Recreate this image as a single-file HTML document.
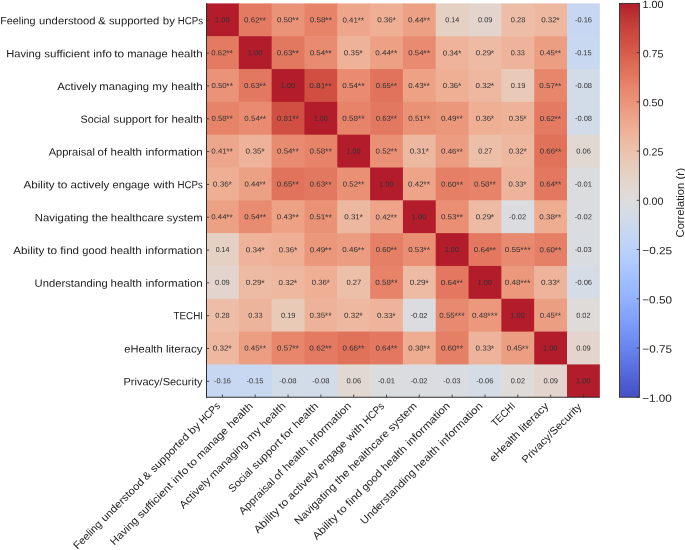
<!DOCTYPE html>
<html><head><meta charset="utf-8"><title>Correlation heatmap</title>
<style>
html,body{margin:0;padding:0;background:#fff;}
body{width:685px;height:550px;position:relative;overflow:hidden;font-family:"Liberation Sans",sans-serif;}
svg{position:absolute;left:0;top:0;}
.t,.an{position:absolute;left:0;top:0;white-space:nowrap;transform-origin:0 0;}
#tx{position:absolute;left:0;top:0;width:685px;height:550px;will-change:transform;}
.t{font-size:10.50px;line-height:10.50px;height:10.50px;color:#222222;}
.w{display:inline-block;text-align:left;}
.st{font-size:8.944px;line-height:7.30px;}
.wi{display:inline-block;transform-origin:0 0;}
.xl{text-align:right;}
.an{font-size:7.30px;line-height:7.30px;height:7.30px;color:#333333;}
</style></head><body>
<svg width="685" height="550" viewBox="0 0 685 550">
<defs><linearGradient id="cb" x1="0" y1="0" x2="0" y2="1">
<stop offset="0.0000" stop-color="#b21c2b"/>
<stop offset="0.0250" stop-color="#ba3030"/>
<stop offset="0.0500" stop-color="#c23d36"/>
<stop offset="0.0750" stop-color="#cb483d"/>
<stop offset="0.1000" stop-color="#d25043"/>
<stop offset="0.1250" stop-color="#d75c4b"/>
<stop offset="0.1500" stop-color="#dd6954"/>
<stop offset="0.1750" stop-color="#e1735c"/>
<stop offset="0.2000" stop-color="#e57f66"/>
<stop offset="0.2250" stop-color="#e88a6f"/>
<stop offset="0.2500" stop-color="#eb9378"/>
<stop offset="0.2750" stop-color="#ec9e83"/>
<stop offset="0.3000" stop-color="#eda88c"/>
<stop offset="0.3250" stop-color="#eeb298"/>
<stop offset="0.3500" stop-color="#edbaa2"/>
<stop offset="0.3750" stop-color="#ecc1ac"/>
<stop offset="0.4000" stop-color="#e9c9b7"/>
<stop offset="0.4250" stop-color="#e6cfc1"/>
<stop offset="0.4500" stop-color="#e3d5cb"/>
<stop offset="0.4750" stop-color="#e1d9d4"/>
<stop offset="0.5000" stop-color="#dddcdc"/>
<stop offset="0.5250" stop-color="#d6dce4"/>
<stop offset="0.5500" stop-color="#d0daea"/>
<stop offset="0.5750" stop-color="#c8d8f0"/>
<stop offset="0.6000" stop-color="#c2d5f5"/>
<stop offset="0.6250" stop-color="#bbd1f9"/>
<stop offset="0.6500" stop-color="#b2ccfd"/>
<stop offset="0.6750" stop-color="#aac6ff"/>
<stop offset="0.7000" stop-color="#a1bfff"/>
<stop offset="0.7250" stop-color="#9ab9ff"/>
<stop offset="0.7500" stop-color="#92b2ff"/>
<stop offset="0.7750" stop-color="#89a9fe"/>
<stop offset="0.8000" stop-color="#81a1fc"/>
<stop offset="0.8250" stop-color="#7897f8"/>
<stop offset="0.8500" stop-color="#718ef3"/>
<stop offset="0.8750" stop-color="#6985ee"/>
<stop offset="0.9000" stop-color="#6179e7"/>
<stop offset="0.9250" stop-color="#5a6fe0"/>
<stop offset="0.9500" stop-color="#5264d7"/>
<stop offset="0.9750" stop-color="#4b59cf"/>
<stop offset="1.0000" stop-color="#454fc6"/>
</linearGradient></defs>
<g id="cells">
<rect x="206.00" y="3.40" width="33.42" height="33.42" fill="#b21c2b"/>
<rect x="238.82" y="3.40" width="33.42" height="33.42" fill="#e47a61"/>
<rect x="271.64" y="3.40" width="33.42" height="33.42" fill="#eb9378"/>
<rect x="304.46" y="3.40" width="33.42" height="33.42" fill="#e68369"/>
<rect x="337.28" y="3.40" width="33.42" height="33.42" fill="#eda68b"/>
<rect x="370.10" y="3.40" width="33.42" height="33.42" fill="#eeaf95"/>
<rect x="402.92" y="3.40" width="33.42" height="33.42" fill="#eca084"/>
<rect x="435.74" y="3.40" width="33.42" height="33.42" fill="#e5d1c4"/>
<rect x="468.56" y="3.40" width="33.42" height="33.42" fill="#e3d5cd"/>
<rect x="501.38" y="3.40" width="33.42" height="33.42" fill="#edbda7"/>
<rect x="534.20" y="3.40" width="33.42" height="33.42" fill="#eeb79f"/>
<rect x="567.02" y="3.40" width="32.82" height="33.42" fill="#c7d7f1"/>
<rect x="206.00" y="36.22" width="33.42" height="33.42" fill="#e47a61"/>
<rect x="238.82" y="36.22" width="33.42" height="33.42" fill="#b21c2b"/>
<rect x="271.64" y="36.22" width="33.42" height="33.42" fill="#e37860"/>
<rect x="304.46" y="36.22" width="33.42" height="33.42" fill="#e98b70"/>
<rect x="337.28" y="36.22" width="33.42" height="33.42" fill="#eeb298"/>
<rect x="370.10" y="36.22" width="33.42" height="33.42" fill="#eca084"/>
<rect x="402.92" y="36.22" width="33.42" height="33.42" fill="#e98b70"/>
<rect x="435.74" y="36.22" width="33.42" height="33.42" fill="#eeb39a"/>
<rect x="468.56" y="36.22" width="33.42" height="33.42" fill="#edbba4"/>
<rect x="501.38" y="36.22" width="33.42" height="33.42" fill="#eeb49b"/>
<rect x="534.20" y="36.22" width="33.42" height="33.42" fill="#ec9e83"/>
<rect x="567.02" y="36.22" width="32.82" height="33.42" fill="#c8d8f0"/>
<rect x="206.00" y="69.04" width="33.42" height="33.42" fill="#eb9378"/>
<rect x="238.82" y="69.04" width="33.42" height="33.42" fill="#e37860"/>
<rect x="271.64" y="69.04" width="33.42" height="33.42" fill="#b21c2b"/>
<rect x="304.46" y="69.04" width="33.42" height="33.42" fill="#d14e42"/>
<rect x="337.28" y="69.04" width="33.42" height="33.42" fill="#e98b70"/>
<rect x="370.10" y="69.04" width="33.42" height="33.42" fill="#e1735c"/>
<rect x="402.92" y="69.04" width="33.42" height="33.42" fill="#eda286"/>
<rect x="435.74" y="69.04" width="33.42" height="33.42" fill="#eeaf95"/>
<rect x="468.56" y="69.04" width="33.42" height="33.42" fill="#eeb79f"/>
<rect x="501.38" y="69.04" width="33.42" height="33.42" fill="#e9cab9"/>
<rect x="534.20" y="69.04" width="33.42" height="33.42" fill="#e8866c"/>
<rect x="567.02" y="69.04" width="32.82" height="33.42" fill="#d2dbe8"/>
<rect x="206.00" y="101.86" width="33.42" height="33.42" fill="#e68369"/>
<rect x="238.82" y="101.86" width="33.42" height="33.42" fill="#e98b70"/>
<rect x="271.64" y="101.86" width="33.42" height="33.42" fill="#d14e42"/>
<rect x="304.46" y="101.86" width="33.42" height="33.42" fill="#b21c2b"/>
<rect x="337.28" y="101.86" width="33.42" height="33.42" fill="#e68369"/>
<rect x="370.10" y="101.86" width="33.42" height="33.42" fill="#e37860"/>
<rect x="402.92" y="101.86" width="33.42" height="33.42" fill="#ea9276"/>
<rect x="435.74" y="101.86" width="33.42" height="33.42" fill="#eb977b"/>
<rect x="468.56" y="101.86" width="33.42" height="33.42" fill="#eeaf95"/>
<rect x="501.38" y="101.86" width="33.42" height="33.42" fill="#eeb298"/>
<rect x="534.20" y="101.86" width="33.42" height="33.42" fill="#e47a61"/>
<rect x="567.02" y="101.86" width="32.82" height="33.42" fill="#d2dbe8"/>
<rect x="206.00" y="134.68" width="33.42" height="33.42" fill="#eda68b"/>
<rect x="238.82" y="134.68" width="33.42" height="33.42" fill="#eeb298"/>
<rect x="271.64" y="134.68" width="33.42" height="33.42" fill="#e98b70"/>
<rect x="304.46" y="134.68" width="33.42" height="33.42" fill="#e68369"/>
<rect x="337.28" y="134.68" width="33.42" height="33.42" fill="#b21c2b"/>
<rect x="370.10" y="134.68" width="33.42" height="33.42" fill="#ea9075"/>
<rect x="402.92" y="134.68" width="33.42" height="33.42" fill="#edb8a0"/>
<rect x="435.74" y="134.68" width="33.42" height="33.42" fill="#ec9d81"/>
<rect x="468.56" y="134.68" width="33.42" height="33.42" fill="#ecbfa8"/>
<rect x="501.38" y="134.68" width="33.42" height="33.42" fill="#eeb79f"/>
<rect x="534.20" y="134.68" width="33.42" height="33.42" fill="#e1725a"/>
<rect x="567.02" y="134.68" width="32.82" height="33.42" fill="#e1d8d2"/>
<rect x="206.00" y="167.50" width="33.42" height="33.42" fill="#eeaf95"/>
<rect x="238.82" y="167.50" width="33.42" height="33.42" fill="#eca084"/>
<rect x="271.64" y="167.50" width="33.42" height="33.42" fill="#e1735c"/>
<rect x="304.46" y="167.50" width="33.42" height="33.42" fill="#e37860"/>
<rect x="337.28" y="167.50" width="33.42" height="33.42" fill="#ea9075"/>
<rect x="370.10" y="167.50" width="33.42" height="33.42" fill="#b21c2b"/>
<rect x="402.92" y="167.50" width="33.42" height="33.42" fill="#eda489"/>
<rect x="435.74" y="167.50" width="33.42" height="33.42" fill="#e57f66"/>
<rect x="468.56" y="167.50" width="33.42" height="33.42" fill="#e68369"/>
<rect x="501.38" y="167.50" width="33.42" height="33.42" fill="#eeb49b"/>
<rect x="534.20" y="167.50" width="33.42" height="33.42" fill="#e3775f"/>
<rect x="567.02" y="167.50" width="32.82" height="33.42" fill="#dbdcde"/>
<rect x="206.00" y="200.32" width="33.42" height="33.42" fill="#eca084"/>
<rect x="238.82" y="200.32" width="33.42" height="33.42" fill="#e98b70"/>
<rect x="271.64" y="200.32" width="33.42" height="33.42" fill="#eda286"/>
<rect x="304.46" y="200.32" width="33.42" height="33.42" fill="#ea9276"/>
<rect x="337.28" y="200.32" width="33.42" height="33.42" fill="#edb8a0"/>
<rect x="370.10" y="200.32" width="33.42" height="33.42" fill="#eda489"/>
<rect x="402.92" y="200.32" width="33.42" height="33.42" fill="#b21c2b"/>
<rect x="435.74" y="200.32" width="33.42" height="33.42" fill="#ea8f73"/>
<rect x="468.56" y="200.32" width="33.42" height="33.42" fill="#edbba4"/>
<rect x="501.38" y="200.32" width="33.42" height="33.42" fill="#dadce0"/>
<rect x="534.20" y="200.32" width="33.42" height="33.42" fill="#eeac91"/>
<rect x="567.02" y="200.32" width="32.82" height="33.42" fill="#dadce0"/>
<rect x="206.00" y="233.14" width="33.42" height="33.42" fill="#e5d1c4"/>
<rect x="238.82" y="233.14" width="33.42" height="33.42" fill="#eeb39a"/>
<rect x="271.64" y="233.14" width="33.42" height="33.42" fill="#eeaf95"/>
<rect x="304.46" y="233.14" width="33.42" height="33.42" fill="#eb977b"/>
<rect x="337.28" y="233.14" width="33.42" height="33.42" fill="#ec9d81"/>
<rect x="370.10" y="233.14" width="33.42" height="33.42" fill="#e57f66"/>
<rect x="402.92" y="233.14" width="33.42" height="33.42" fill="#ea8f73"/>
<rect x="435.74" y="233.14" width="33.42" height="33.42" fill="#b21c2b"/>
<rect x="468.56" y="233.14" width="33.42" height="33.42" fill="#e3775f"/>
<rect x="501.38" y="233.14" width="33.42" height="33.42" fill="#e88a6f"/>
<rect x="534.20" y="233.14" width="33.42" height="33.42" fill="#e57f66"/>
<rect x="567.02" y="233.14" width="32.82" height="33.42" fill="#d9dce1"/>
<rect x="206.00" y="265.96" width="33.42" height="33.42" fill="#e3d5cd"/>
<rect x="238.82" y="265.96" width="33.42" height="33.42" fill="#edbba4"/>
<rect x="271.64" y="265.96" width="33.42" height="33.42" fill="#eeb79f"/>
<rect x="304.46" y="265.96" width="33.42" height="33.42" fill="#eeaf95"/>
<rect x="337.28" y="265.96" width="33.42" height="33.42" fill="#ecbfa8"/>
<rect x="370.10" y="265.96" width="33.42" height="33.42" fill="#e68369"/>
<rect x="402.92" y="265.96" width="33.42" height="33.42" fill="#edbba4"/>
<rect x="435.74" y="265.96" width="33.42" height="33.42" fill="#e3775f"/>
<rect x="468.56" y="265.96" width="33.42" height="33.42" fill="#b21c2b"/>
<rect x="501.38" y="265.96" width="33.42" height="33.42" fill="#eb987c"/>
<rect x="534.20" y="265.96" width="33.42" height="33.42" fill="#eeb49b"/>
<rect x="567.02" y="265.96" width="32.82" height="33.42" fill="#d5dce5"/>
<rect x="206.00" y="298.78" width="33.42" height="33.42" fill="#edbda7"/>
<rect x="238.82" y="298.78" width="33.42" height="33.42" fill="#eeb49b"/>
<rect x="271.64" y="298.78" width="33.42" height="33.42" fill="#e9cab9"/>
<rect x="304.46" y="298.78" width="33.42" height="33.42" fill="#eeb298"/>
<rect x="337.28" y="298.78" width="33.42" height="33.42" fill="#eeb79f"/>
<rect x="370.10" y="298.78" width="33.42" height="33.42" fill="#eeb49b"/>
<rect x="402.92" y="298.78" width="33.42" height="33.42" fill="#dadce0"/>
<rect x="435.74" y="298.78" width="33.42" height="33.42" fill="#e88a6f"/>
<rect x="468.56" y="298.78" width="33.42" height="33.42" fill="#eb987c"/>
<rect x="501.38" y="298.78" width="33.42" height="33.42" fill="#b21c2b"/>
<rect x="534.20" y="298.78" width="33.42" height="33.42" fill="#ec9e83"/>
<rect x="567.02" y="298.78" width="32.82" height="33.42" fill="#dedbd9"/>
<rect x="206.00" y="331.60" width="33.42" height="33.42" fill="#eeb79f"/>
<rect x="238.82" y="331.60" width="33.42" height="33.42" fill="#ec9e83"/>
<rect x="271.64" y="331.60" width="33.42" height="33.42" fill="#e8866c"/>
<rect x="304.46" y="331.60" width="33.42" height="33.42" fill="#e47a61"/>
<rect x="337.28" y="331.60" width="33.42" height="33.42" fill="#e1725a"/>
<rect x="370.10" y="331.60" width="33.42" height="33.42" fill="#e3775f"/>
<rect x="402.92" y="331.60" width="33.42" height="33.42" fill="#eeac91"/>
<rect x="435.74" y="331.60" width="33.42" height="33.42" fill="#e57f66"/>
<rect x="468.56" y="331.60" width="33.42" height="33.42" fill="#eeb49b"/>
<rect x="501.38" y="331.60" width="33.42" height="33.42" fill="#ec9e83"/>
<rect x="534.20" y="331.60" width="33.42" height="33.42" fill="#b21c2b"/>
<rect x="567.02" y="331.60" width="32.82" height="33.42" fill="#e3d5cd"/>
<rect x="206.00" y="364.42" width="33.42" height="32.82" fill="#c7d7f1"/>
<rect x="238.82" y="364.42" width="33.42" height="32.82" fill="#c8d8f0"/>
<rect x="271.64" y="364.42" width="33.42" height="32.82" fill="#d2dbe8"/>
<rect x="304.46" y="364.42" width="33.42" height="32.82" fill="#d2dbe8"/>
<rect x="337.28" y="364.42" width="33.42" height="32.82" fill="#e1d8d2"/>
<rect x="370.10" y="364.42" width="33.42" height="32.82" fill="#dbdcde"/>
<rect x="402.92" y="364.42" width="33.42" height="32.82" fill="#dadce0"/>
<rect x="435.74" y="364.42" width="33.42" height="32.82" fill="#d9dce1"/>
<rect x="468.56" y="364.42" width="33.42" height="32.82" fill="#d5dce5"/>
<rect x="501.38" y="364.42" width="33.42" height="32.82" fill="#dedbd9"/>
<rect x="534.20" y="364.42" width="33.42" height="32.82" fill="#e3d5cd"/>
<rect x="567.02" y="364.42" width="32.82" height="32.82" fill="#b21c2b"/>
</g>
<rect x="619.50" y="3.40" width="19.90" height="393.84" fill="url(#cb)" stroke="#2e2e2e" stroke-width="0.90"/>
<line x1="206.50" y1="3.40" x2="206.50" y2="397.74" stroke="#2e2e2e" stroke-width="1.00"/>
<line x1="206.00" y1="397.24" x2="599.84" y2="397.24" stroke="#2e2e2e" stroke-width="1.00"/>
<line x1="206.50" y1="20.31" x2="209.20" y2="20.31" stroke="#333333" stroke-width="0.85"/>
<line x1="222.41" y1="397.24" x2="222.41" y2="394.54" stroke="#333333" stroke-width="0.85"/>
<line x1="206.50" y1="53.13" x2="209.20" y2="53.13" stroke="#333333" stroke-width="0.85"/>
<line x1="255.23" y1="397.24" x2="255.23" y2="394.54" stroke="#333333" stroke-width="0.85"/>
<line x1="206.50" y1="85.95" x2="209.20" y2="85.95" stroke="#333333" stroke-width="0.85"/>
<line x1="288.05" y1="397.24" x2="288.05" y2="394.54" stroke="#333333" stroke-width="0.85"/>
<line x1="206.50" y1="118.77" x2="209.20" y2="118.77" stroke="#333333" stroke-width="0.85"/>
<line x1="320.87" y1="397.24" x2="320.87" y2="394.54" stroke="#333333" stroke-width="0.85"/>
<line x1="206.50" y1="151.59" x2="209.20" y2="151.59" stroke="#333333" stroke-width="0.85"/>
<line x1="353.69" y1="397.24" x2="353.69" y2="394.54" stroke="#333333" stroke-width="0.85"/>
<line x1="206.50" y1="184.41" x2="209.20" y2="184.41" stroke="#333333" stroke-width="0.85"/>
<line x1="386.51" y1="397.24" x2="386.51" y2="394.54" stroke="#333333" stroke-width="0.85"/>
<line x1="206.50" y1="217.23" x2="209.20" y2="217.23" stroke="#333333" stroke-width="0.85"/>
<line x1="419.33" y1="397.24" x2="419.33" y2="394.54" stroke="#333333" stroke-width="0.85"/>
<line x1="206.50" y1="250.05" x2="209.20" y2="250.05" stroke="#333333" stroke-width="0.85"/>
<line x1="452.15" y1="397.24" x2="452.15" y2="394.54" stroke="#333333" stroke-width="0.85"/>
<line x1="206.50" y1="282.87" x2="209.20" y2="282.87" stroke="#333333" stroke-width="0.85"/>
<line x1="484.97" y1="397.24" x2="484.97" y2="394.54" stroke="#333333" stroke-width="0.85"/>
<line x1="206.50" y1="315.69" x2="209.20" y2="315.69" stroke="#333333" stroke-width="0.85"/>
<line x1="517.79" y1="397.24" x2="517.79" y2="394.54" stroke="#333333" stroke-width="0.85"/>
<line x1="206.50" y1="348.51" x2="209.20" y2="348.51" stroke="#333333" stroke-width="0.85"/>
<line x1="550.61" y1="397.24" x2="550.61" y2="394.54" stroke="#333333" stroke-width="0.85"/>
<line x1="206.50" y1="381.33" x2="209.20" y2="381.33" stroke="#333333" stroke-width="0.85"/>
<line x1="583.43" y1="397.24" x2="583.43" y2="394.54" stroke="#333333" stroke-width="0.85"/>
<line x1="639.40" y1="3.40" x2="636.70" y2="3.40" stroke="#333333" stroke-width="0.85"/>
<line x1="639.40" y1="52.63" x2="636.70" y2="52.63" stroke="#333333" stroke-width="0.85"/>
<line x1="639.40" y1="101.86" x2="636.70" y2="101.86" stroke="#333333" stroke-width="0.85"/>
<line x1="639.40" y1="151.09" x2="636.70" y2="151.09" stroke="#333333" stroke-width="0.85"/>
<line x1="639.40" y1="200.32" x2="636.70" y2="200.32" stroke="#333333" stroke-width="0.85"/>
<line x1="639.40" y1="249.55" x2="636.70" y2="249.55" stroke="#333333" stroke-width="0.85"/>
<line x1="639.40" y1="298.78" x2="636.70" y2="298.78" stroke="#333333" stroke-width="0.85"/>
<line x1="639.40" y1="348.01" x2="636.70" y2="348.01" stroke="#333333" stroke-width="0.85"/>
<line x1="639.40" y1="397.24" x2="636.70" y2="397.24" stroke="#333333" stroke-width="0.85"/>
</svg>
<div id="tx">
<div class="t yl" style="transform:translate(203.158px,24.121px) scaleX(0.9976) translate(-100%,-8.888px)"><span class="w" style="width:38.619px"><span class="wi" style="transform:scaleX(1.0299) skewY(0.100deg)">Feeling</span></span><span class="w" style="width:59.699px"><span class="wi" style="transform:scaleX(1.0762) skewY(0.100deg)">understood</span></span><span class="w" style="width:10.889px"><span class="wi" style="transform:scaleX(1.1045) skewY(0.100deg)">&amp;</span></span><span class="w" style="width:53.640px"><span class="wi" style="transform:scaleX(1.0810) skewY(0.100deg)">supported</span></span><span class="w" style="width:15.321px"><span class="wi" style="transform:scaleX(1.0972) skewY(0.100deg)">by</span></span><span class="w" style="width:25.362px"><span class="wi" style="transform:scaleX(0.9250) skewY(0.100deg)">HCPs</span></span></div>
<div class="t yl" style="transform:translate(202.702px,57.032px) scaleX(1.0001) translate(-100%,-8.888px)"><span class="w" style="width:37.902px"><span class="wi" style="transform:scaleX(1.0632) skewY(0.100deg)">Having</span></span><span class="w" style="width:48.690px"><span class="wi" style="transform:scaleX(1.1040) skewY(0.100deg)">sufficient</span></span><span class="w" style="width:21.758px"><span class="wi" style="transform:scaleX(1.0990) skewY(0.100deg)">info</span></span><span class="w" style="width:13.112px"><span class="wi" style="transform:scaleX(1.1373) skewY(0.100deg)">to</span></span><span class="w" style="width:43.662px"><span class="wi" style="transform:scaleX(1.0676) skewY(0.100deg)">manage</span></span><span class="w" style="width:31.402px"><span class="wi" style="transform:scaleX(1.0977) skewY(0.100deg)">health</span></span></div>
<div class="t yl" style="transform:translate(202.709px,89.798px) scaleX(1.0003) translate(-100%,-8.888px)"><span class="w" style="width:42.465px"><span class="wi" style="transform:scaleX(1.0867) skewY(0.100deg)">Actively</span></span><span class="w" style="width:52.899px"><span class="wi" style="transform:scaleX(1.0787) skewY(0.100deg)">managing</span></span><span class="w" style="width:18.687px"><span class="wi" style="transform:scaleX(1.1098) skewY(0.100deg)">my</span></span><span class="w" style="width:31.402px"><span class="wi" style="transform:scaleX(1.0977) skewY(0.100deg)">health</span></span></div>
<div class="t yl" style="transform:translate(202.341px,122.557px) scaleX(0.9990) translate(-100%,-8.888px)"><span class="w" style="width:32.565px"><span class="wi" style="transform:scaleX(1.0284) skewY(0.100deg)">Social</span></span><span class="w" style="width:41.240px"><span class="wi" style="transform:scaleX(1.0875) skewY(0.100deg)">support</span></span><span class="w" style="width:16.793px"><span class="wi" style="transform:scaleX(1.1132) skewY(0.100deg)">for</span></span><span class="w" style="width:31.402px"><span class="wi" style="transform:scaleX(1.0977) skewY(0.100deg)">health</span></span></div>
<div class="t yl" style="transform:translate(202.432px,155.305px) scaleX(0.9991) translate(-100%,-8.888px)"><span class="w" style="width:49.450px"><span class="wi" style="transform:scaleX(1.0576) skewY(0.100deg)">Appraisal</span></span><span class="w" style="width:12.715px"><span class="wi" style="transform:scaleX(1.0919) skewY(0.100deg)">of</span></span><span class="w" style="width:34.556px"><span class="wi" style="transform:scaleX(1.0977) skewY(0.100deg)">health</span></span><span class="w" style="width:57.253px"><span class="wi" style="transform:scaleX(1.1023) skewY(0.100deg)">information</span></span></div>
<div class="t yl" style="transform:translate(202.743px,188.216px) scaleX(1.0009) translate(-100%,-8.888px)"><span class="w" style="width:34.265px"><span class="wi" style="transform:scaleX(1.1108) skewY(0.100deg)">Ability</span></span><span class="w" style="width:13.112px"><span class="wi" style="transform:scaleX(1.1373) skewY(0.100deg)">to</span></span><span class="w" style="width:41.932px"><span class="wi" style="transform:scaleX(1.1076) skewY(0.100deg)">actively</span></span><span class="w" style="width:40.320px"><span class="wi" style="transform:scaleX(1.0607) skewY(0.100deg)">engage</span></span><span class="w" style="width:24.200px"><span class="wi" style="transform:scaleX(1.1271) skewY(0.100deg)">with</span></span><span class="w" style="width:25.362px"><span class="wi" style="transform:scaleX(0.9250) skewY(0.100deg)">HCPs</span></span></div>
<div class="t yl" style="transform:translate(203.085px,221.061px) scaleX(1.0003) translate(-100%,-8.888px)"><span class="w" style="width:56.885px"><span class="wi" style="transform:scaleX(1.0830) skewY(0.100deg)">Navigating</span></span><span class="w" style="width:19.433px"><span class="wi" style="transform:scaleX(1.1153) skewY(0.100deg)">the</span></span><span class="w" style="width:56.052px"><span class="wi" style="transform:scaleX(1.0788) skewY(0.100deg)">healthcare</span></span><span class="w" style="width:35.863px"><span class="wi" style="transform:scaleX(1.0785) skewY(0.100deg)">system</span></span></div>
<div class="t yl" style="transform:translate(202.193px,253.833px) scaleX(0.9992) translate(-100%,-8.888px)"><span class="w" style="width:34.265px"><span class="wi" style="transform:scaleX(1.1108) skewY(0.100deg)">Ability</span></span><span class="w" style="width:13.112px"><span class="wi" style="transform:scaleX(1.1373) skewY(0.100deg)">to</span></span><span class="w" style="width:21.986px"><span class="wi" style="transform:scaleX(1.1124) skewY(0.100deg)">find</span></span><span class="w" style="width:27.885px"><span class="wi" style="transform:scaleX(1.0588) skewY(0.100deg)">good</span></span><span class="w" style="width:34.556px"><span class="wi" style="transform:scaleX(1.0977) skewY(0.100deg)">health</span></span><span class="w" style="width:57.253px"><span class="wi" style="transform:scaleX(1.1023) skewY(0.100deg)">information</span></span></div>
<div class="t yl" style="transform:translate(202.577px,286.524px) scaleX(1.0001) translate(-100%,-8.888px)"><span class="w" style="width:76.241px"><span class="wi" style="transform:scaleX(1.0702) skewY(0.100deg)">Understanding</span></span><span class="w" style="width:34.556px"><span class="wi" style="transform:scaleX(1.0977) skewY(0.100deg)">health</span></span><span class="w" style="width:57.253px"><span class="wi" style="transform:scaleX(1.1023) skewY(0.100deg)">information</span></span></div>
<div class="t yl" style="transform:translate(203.039px,319.092px) scaleX(0.9956) translate(-100%,-8.888px)"><span class="w" style="width:29.639px"><span class="wi" style="transform:scaleX(0.9409) skewY(0.100deg)">TECHI</span></span></div>
<div class="t yl" style="transform:translate(202.402px,352.319px) scaleX(0.9906) translate(-100%,-8.888px)"><span class="w" style="width:41.831px"><span class="wi" style="transform:scaleX(1.0687) skewY(0.100deg)">eHealth</span></span><span class="w" style="width:36.987px"><span class="wi" style="transform:scaleX(1.1121) skewY(0.100deg)">literacy</span></span></div>
<div class="t yl" style="transform:translate(202.455px,385.072px) scaleX(0.9882) translate(-100%,-8.888px)"><span class="w" style="width:79.995px"><span class="wi" style="transform:scaleX(1.0628) skewY(0.100deg)">Privacy/Security</span></span></div>
<div class="t xl" style="transform:translate(220.814px,406.330px) rotate(-45.000deg) scaleX(0.9967) translate(-100%,-8.888px)"><span class="w" style="width:38.619px"><span class="wi" style="transform:scaleX(1.0299)">Feeling</span></span><span class="w" style="width:59.699px"><span class="wi" style="transform:scaleX(1.0762)">understood</span></span><span class="w" style="width:10.889px"><span class="wi" style="transform:scaleX(1.1045)">&amp;</span></span><span class="w" style="width:53.640px"><span class="wi" style="transform:scaleX(1.0810)">supported</span></span><span class="w" style="width:15.321px"><span class="wi" style="transform:scaleX(1.0972)">by</span></span><span class="w" style="width:25.362px"><span class="wi" style="transform:scaleX(0.9250)">HCPs</span></span></div>
<div class="t xl" style="transform:translate(253.483px,406.456px) rotate(-45.000deg) scaleX(1.0019) translate(-100%,-8.888px)"><span class="w" style="width:37.902px"><span class="wi" style="transform:scaleX(1.0632)">Having</span></span><span class="w" style="width:48.690px"><span class="wi" style="transform:scaleX(1.1040)">sufficient</span></span><span class="w" style="width:21.758px"><span class="wi" style="transform:scaleX(1.0990)">info</span></span><span class="w" style="width:13.112px"><span class="wi" style="transform:scaleX(1.1373)">to</span></span><span class="w" style="width:43.662px"><span class="wi" style="transform:scaleX(1.0676)">manage</span></span><span class="w" style="width:31.402px"><span class="wi" style="transform:scaleX(1.0977)">health</span></span></div>
<div class="t xl" style="transform:translate(286.097px,406.394px) rotate(-45.000deg) scaleX(0.9993) translate(-100%,-8.888px)"><span class="w" style="width:42.465px"><span class="wi" style="transform:scaleX(1.0867)">Actively</span></span><span class="w" style="width:52.899px"><span class="wi" style="transform:scaleX(1.0787)">managing</span></span><span class="w" style="width:18.687px"><span class="wi" style="transform:scaleX(1.1098)">my</span></span><span class="w" style="width:31.402px"><span class="wi" style="transform:scaleX(1.0977)">health</span></span></div>
<div class="t xl" style="transform:translate(318.527px,406.845px) rotate(-45.000deg) scaleX(0.9973) translate(-100%,-8.888px)"><span class="w" style="width:32.565px"><span class="wi" style="transform:scaleX(1.0284)">Social</span></span><span class="w" style="width:41.240px"><span class="wi" style="transform:scaleX(1.0875)">support</span></span><span class="w" style="width:16.793px"><span class="wi" style="transform:scaleX(1.1132)">for</span></span><span class="w" style="width:31.402px"><span class="wi" style="transform:scaleX(1.0977)">health</span></span></div>
<div class="t xl" style="transform:translate(351.502px,406.619px) rotate(-45.000deg) scaleX(0.9973) translate(-100%,-8.888px)"><span class="w" style="width:49.450px"><span class="wi" style="transform:scaleX(1.0576)">Appraisal</span></span><span class="w" style="width:12.715px"><span class="wi" style="transform:scaleX(1.0919)">of</span></span><span class="w" style="width:34.556px"><span class="wi" style="transform:scaleX(1.0977)">health</span></span><span class="w" style="width:57.253px"><span class="wi" style="transform:scaleX(1.1023)">information</span></span></div>
<div class="t xl" style="transform:translate(384.825px,406.830px) rotate(-45.000deg) scaleX(1.0012) translate(-100%,-8.888px)"><span class="w" style="width:34.265px"><span class="wi" style="transform:scaleX(1.1108)">Ability</span></span><span class="w" style="width:13.112px"><span class="wi" style="transform:scaleX(1.1373)">to</span></span><span class="w" style="width:41.932px"><span class="wi" style="transform:scaleX(1.1076)">actively</span></span><span class="w" style="width:40.320px"><span class="wi" style="transform:scaleX(1.0607)">engage</span></span><span class="w" style="width:24.200px"><span class="wi" style="transform:scaleX(1.1271)">with</span></span><span class="w" style="width:25.362px"><span class="wi" style="transform:scaleX(0.9250)">HCPs</span></span></div>
<div class="t xl" style="transform:translate(417.558px,406.201px) rotate(-45.000deg) scaleX(1.0009) translate(-100%,-8.888px)"><span class="w" style="width:56.885px"><span class="wi" style="transform:scaleX(1.0830)">Navigating</span></span><span class="w" style="width:19.433px"><span class="wi" style="transform:scaleX(1.1153)">the</span></span><span class="w" style="width:56.052px"><span class="wi" style="transform:scaleX(1.0788)">healthcare</span></span><span class="w" style="width:35.863px"><span class="wi" style="transform:scaleX(1.0785)">system</span></span></div>
<div class="t xl" style="transform:translate(450.190px,406.485px) rotate(-45.000deg) scaleX(0.9998) translate(-100%,-8.888px)"><span class="w" style="width:34.265px"><span class="wi" style="transform:scaleX(1.1108)">Ability</span></span><span class="w" style="width:13.112px"><span class="wi" style="transform:scaleX(1.1373)">to</span></span><span class="w" style="width:21.986px"><span class="wi" style="transform:scaleX(1.1124)">find</span></span><span class="w" style="width:27.885px"><span class="wi" style="transform:scaleX(1.0588)">good</span></span><span class="w" style="width:34.556px"><span class="wi" style="transform:scaleX(1.0977)">health</span></span><span class="w" style="width:57.253px"><span class="wi" style="transform:scaleX(1.1023)">information</span></span></div>
<div class="t xl" style="transform:translate(482.956px,406.446px) rotate(-45.000deg) scaleX(0.9970) translate(-100%,-8.888px)"><span class="w" style="width:76.241px"><span class="wi" style="transform:scaleX(1.0702)">Understanding</span></span><span class="w" style="width:34.556px"><span class="wi" style="transform:scaleX(1.0977)">health</span></span><span class="w" style="width:57.253px"><span class="wi" style="transform:scaleX(1.1023)">information</span></span></div>
<div class="t xl" style="transform:translate(515.851px,406.642px) rotate(-45.000deg) scaleX(0.9775) translate(-100%,-8.888px)"><span class="w" style="width:29.639px"><span class="wi" style="transform:scaleX(0.9409)">TECHI</span></span></div>
<div class="t xl" style="transform:translate(548.959px,406.781px) rotate(-45.000deg) scaleX(0.9978) translate(-100%,-8.888px)"><span class="w" style="width:41.831px"><span class="wi" style="transform:scaleX(1.0687)">eHealth</span></span><span class="w" style="width:36.987px"><span class="wi" style="transform:scaleX(1.1121)">literacy</span></span></div>
<div class="t xl" style="transform:translate(582.121px,407.438px) rotate(-45.000deg) scaleX(0.9942) translate(-100%,-8.888px)"><span class="w" style="width:79.995px"><span class="wi" style="transform:scaleX(1.0628)">Privacy/Security</span></span></div>
<div class="t cl" style="transform:translate(642.456px,7.880px) scaleX(1.0284) skewY(0.100deg) translate(0px,-8.888px)">1.00</div>
<div class="t cl" style="transform:translate(642.647px,57.246px) scaleX(1.0167) skewY(0.100deg) translate(0px,-8.888px)">0.75</div>
<div class="t cl" style="transform:translate(642.637px,106.233px) scaleX(1.0251) skewY(0.100deg) translate(0px,-8.888px)">0.50</div>
<div class="t cl" style="transform:translate(642.639px,155.480px) scaleX(1.0179) skewY(0.100deg) translate(0px,-8.888px)">0.25</div>
<div class="t cl" style="transform:translate(642.656px,204.716px) scaleX(1.0142) skewY(0.100deg) translate(0px,-8.888px)">0.00</div>
<div class="t cl" style="transform:translate(642.243px,254.001px) scaleX(1.1237) skewY(0.100deg) translate(0px,-8.888px)">−0.25</div>
<div class="t cl" style="transform:translate(642.258px,303.247px) scaleX(1.1187) skewY(0.100deg) translate(0px,-8.888px)">−0.50</div>
<div class="t cl" style="transform:translate(642.288px,352.481px) scaleX(1.1152) skewY(0.100deg) translate(0px,-8.888px)">−0.75</div>
<div class="t cl" style="transform:translate(642.288px,401.684px) scaleX(1.1125) skewY(0.100deg) translate(0px,-8.888px)">−1.00</div>
<div class="t cl" style="transform:translate(684.319px,202.679px) rotate(-90.000deg) scaleX(0.9970) translate(-50%,-8.888px)"><span class="w" style="width:57.854px"><span class="wi" style="transform:scaleX(1.0651)">Correlation</span></span><span class="w" style="width:11.819px"><span class="wi" style="transform:scaleX(1.1267)">(r)</span></span></div>
<div class="an" style="transform:translate(222.307px,22.451px) scaleX(0.9560) translate(-50%,-6.179px)"><span class="w" style="width:15.352px"><span class="wi" style="transform:scaleX(1.0805) skewY(0.100deg)">1.00</span></span></div>
<div class="an" style="transform:translate(255.309px,22.538px) scaleX(1.0120) translate(-50%,-6.179px)"><span class="w" style="width:15.352px"><span class="wi" style="transform:scaleX(1.0805) skewY(0.100deg)">0.62</span></span><span class="w" style="width:6.895px"><span class="wi st" style="transform:translateY(1.037px) scaleX(0.9582) skewY(0.100deg)">**</span></span></div>
<div class="an" style="transform:translate(288.166px,22.388px) scaleX(1.0119) translate(-50%,-6.179px)"><span class="w" style="width:15.352px"><span class="wi" style="transform:scaleX(1.0805) skewY(0.100deg)">0.50</span></span><span class="w" style="width:6.895px"><span class="wi st" style="transform:translateY(1.037px) scaleX(0.9582) skewY(0.100deg)">**</span></span></div>
<div class="an" style="transform:translate(321.063px,22.362px) scaleX(1.0287) translate(-50%,-6.179px)"><span class="w" style="width:15.352px"><span class="wi" style="transform:scaleX(1.0805) skewY(0.100deg)">0.58</span></span><span class="w" style="width:6.895px"><span class="wi st" style="transform:translateY(1.037px) scaleX(0.9582) skewY(0.100deg)">**</span></span></div>
<div class="an" style="transform:translate(353.581px,22.555px) scaleX(0.9987) translate(-50%,-6.179px)"><span class="w" style="width:15.352px"><span class="wi" style="transform:scaleX(1.0805) skewY(0.100deg)">0.41</span></span><span class="w" style="width:6.895px"><span class="wi st" style="transform:translateY(1.037px) scaleX(0.9582) skewY(0.100deg)">**</span></span></div>
<div class="an" style="transform:translate(386.748px,22.480px) scaleX(1.0225) translate(-50%,-6.179px)"><span class="w" style="width:15.352px"><span class="wi" style="transform:scaleX(1.0805) skewY(0.100deg)">0.36</span></span><span class="w" style="width:3.447px"><span class="wi st" style="transform:translateY(1.037px) scaleX(0.9582) skewY(0.100deg)">*</span></span></div>
<div class="an" style="transform:translate(419.369px,22.553px) scaleX(1.0120) translate(-50%,-6.179px)"><span class="w" style="width:15.352px"><span class="wi" style="transform:scaleX(1.0805) skewY(0.100deg)">0.44</span></span><span class="w" style="width:6.895px"><span class="wi st" style="transform:translateY(1.037px) scaleX(0.9582) skewY(0.100deg)">**</span></span></div>
<div class="an" style="transform:translate(452.248px,22.479px) scaleX(0.9111) translate(-50%,-6.179px)"><span class="w" style="width:15.352px"><span class="wi" style="transform:scaleX(1.0805) skewY(0.100deg)">0.14</span></span></div>
<div class="an" style="transform:translate(485.199px,22.436px) scaleX(0.9412) translate(-50%,-6.179px)"><span class="w" style="width:15.352px"><span class="wi" style="transform:scaleX(1.0805) skewY(0.100deg)">0.09</span></span></div>
<div class="an" style="transform:translate(518.096px,22.464px) scaleX(0.9443) translate(-50%,-6.179px)"><span class="w" style="width:15.352px"><span class="wi" style="transform:scaleX(1.0805) skewY(0.100deg)">0.28</span></span></div>
<div class="an" style="transform:translate(550.685px,22.512px) scaleX(1.0110) translate(-50%,-6.179px)"><span class="w" style="width:15.352px"><span class="wi" style="transform:scaleX(1.0805) skewY(0.100deg)">0.32</span></span><span class="w" style="width:3.447px"><span class="wi st" style="transform:translateY(1.037px) scaleX(0.9582) skewY(0.100deg)">*</span></span></div>
<div class="an" style="transform:translate(583.452px,22.487px) scaleX(0.9575) translate(-50%,-6.179px)"><span class="w" style="width:17.840px"><span class="wi" style="transform:scaleX(1.0722) skewY(0.100deg)">-0.16</span></span></div>
<div class="an" style="transform:translate(222.352px,55.503px) scaleX(0.9884) translate(-50%,-6.179px)"><span class="w" style="width:15.352px"><span class="wi" style="transform:scaleX(1.0805) skewY(0.100deg)">0.62</span></span><span class="w" style="width:6.895px"><span class="wi st" style="transform:translateY(1.037px) scaleX(0.9582) skewY(0.100deg)">**</span></span></div>
<div class="an" style="transform:translate(255.063px,55.454px) scaleX(0.9620) translate(-50%,-6.179px)"><span class="w" style="width:15.352px"><span class="wi" style="transform:scaleX(1.0805) skewY(0.100deg)">1.00</span></span></div>
<div class="an" style="transform:translate(288.131px,55.509px) scaleX(1.0201) translate(-50%,-6.179px)"><span class="w" style="width:15.352px"><span class="wi" style="transform:scaleX(1.0805) skewY(0.100deg)">0.63</span></span><span class="w" style="width:6.895px"><span class="wi st" style="transform:translateY(1.037px) scaleX(0.9582) skewY(0.100deg)">**</span></span></div>
<div class="an" style="transform:translate(320.953px,55.507px) scaleX(1.0167) translate(-50%,-6.179px)"><span class="w" style="width:15.352px"><span class="wi" style="transform:scaleX(1.0805) skewY(0.100deg)">0.54</span></span><span class="w" style="width:6.895px"><span class="wi st" style="transform:translateY(1.037px) scaleX(0.9582) skewY(0.100deg)">**</span></span></div>
<div class="an" style="transform:translate(353.517px,55.409px) scaleX(1.0309) translate(-50%,-6.179px)"><span class="w" style="width:15.352px"><span class="wi" style="transform:scaleX(1.0805) skewY(0.100deg)">0.35</span></span><span class="w" style="width:3.447px"><span class="wi st" style="transform:translateY(1.037px) scaleX(0.9582) skewY(0.100deg)">*</span></span></div>
<div class="an" style="transform:translate(386.630px,55.436px) scaleX(1.0167) translate(-50%,-6.179px)"><span class="w" style="width:15.352px"><span class="wi" style="transform:scaleX(1.0805) skewY(0.100deg)">0.44</span></span><span class="w" style="width:6.895px"><span class="wi st" style="transform:translateY(1.037px) scaleX(0.9582) skewY(0.100deg)">**</span></span></div>
<div class="an" style="transform:translate(419.400px,55.505px) scaleX(1.0025) translate(-50%,-6.179px)"><span class="w" style="width:15.352px"><span class="wi" style="transform:scaleX(1.0805) skewY(0.100deg)">0.54</span></span><span class="w" style="width:6.895px"><span class="wi st" style="transform:translateY(1.037px) scaleX(0.9582) skewY(0.100deg)">**</span></span></div>
<div class="an" style="transform:translate(452.218px,55.597px) scaleX(1.0143) translate(-50%,-6.179px)"><span class="w" style="width:15.352px"><span class="wi" style="transform:scaleX(1.0805) skewY(0.100deg)">0.34</span></span><span class="w" style="width:3.447px"><span class="wi st" style="transform:translateY(1.037px) scaleX(0.9582) skewY(0.100deg)">*</span></span></div>
<div class="an" style="transform:translate(485.154px,55.536px) scaleX(1.0143) translate(-50%,-6.179px)"><span class="w" style="width:15.352px"><span class="wi" style="transform:scaleX(1.0805) skewY(0.100deg)">0.29</span></span><span class="w" style="width:3.447px"><span class="wi st" style="transform:translateY(1.037px) scaleX(0.9582) skewY(0.100deg)">*</span></span></div>
<div class="an" style="transform:translate(517.806px,55.452px) scaleX(0.9268) translate(-50%,-6.179px)"><span class="w" style="width:15.352px"><span class="wi" style="transform:scaleX(1.0805) skewY(0.100deg)">0.33</span></span></div>
<div class="an" style="transform:translate(550.623px,55.422px) scaleX(0.9781) translate(-50%,-6.179px)"><span class="w" style="width:15.352px"><span class="wi" style="transform:scaleX(1.0805) skewY(0.100deg)">0.45</span></span><span class="w" style="width:6.895px"><span class="wi st" style="transform:translateY(1.037px) scaleX(0.9582) skewY(0.100deg)">**</span></span></div>
<div class="an" style="transform:translate(583.120px,55.422px) scaleX(0.9477) translate(-50%,-6.179px)"><span class="w" style="width:17.840px"><span class="wi" style="transform:scaleX(1.0722) skewY(0.100deg)">-0.15</span></span></div>
<div class="an" style="transform:translate(222.512px,88.196px) scaleX(0.9871) translate(-50%,-6.179px)"><span class="w" style="width:15.352px"><span class="wi" style="transform:scaleX(1.0805) skewY(0.100deg)">0.50</span></span><span class="w" style="width:6.895px"><span class="wi st" style="transform:translateY(1.037px) scaleX(0.9582) skewY(0.100deg)">**</span></span></div>
<div class="an" style="transform:translate(255.342px,88.166px) scaleX(1.0146) translate(-50%,-6.179px)"><span class="w" style="width:15.352px"><span class="wi" style="transform:scaleX(1.0805) skewY(0.100deg)">0.63</span></span><span class="w" style="width:6.895px"><span class="wi st" style="transform:translateY(1.037px) scaleX(0.9582) skewY(0.100deg)">**</span></span></div>
<div class="an" style="transform:translate(287.797px,88.227px) scaleX(0.9405) translate(-50%,-6.179px)"><span class="w" style="width:15.352px"><span class="wi" style="transform:scaleX(1.0805) skewY(0.100deg)">1.00</span></span></div>
<div class="an" style="transform:translate(320.813px,88.292px) scaleX(1.0431) translate(-50%,-6.179px)"><span class="w" style="width:15.352px"><span class="wi" style="transform:scaleX(1.0805) skewY(0.100deg)">0.81</span></span><span class="w" style="width:6.895px"><span class="wi st" style="transform:translateY(1.037px) scaleX(0.9582) skewY(0.100deg)">**</span></span></div>
<div class="an" style="transform:translate(353.778px,88.256px) scaleX(1.0275) translate(-50%,-6.179px)"><span class="w" style="width:15.352px"><span class="wi" style="transform:scaleX(1.0805) skewY(0.100deg)">0.54</span></span><span class="w" style="width:6.895px"><span class="wi st" style="transform:translateY(1.037px) scaleX(0.9582) skewY(0.100deg)">**</span></span></div>
<div class="an" style="transform:translate(386.622px,88.241px) scaleX(0.9786) translate(-50%,-6.179px)"><span class="w" style="width:15.352px"><span class="wi" style="transform:scaleX(1.0805) skewY(0.100deg)">0.65</span></span><span class="w" style="width:6.895px"><span class="wi st" style="transform:translateY(1.037px) scaleX(0.9582) skewY(0.100deg)">**</span></span></div>
<div class="an" style="transform:translate(419.332px,88.175px) scaleX(1.0042) translate(-50%,-6.179px)"><span class="w" style="width:15.352px"><span class="wi" style="transform:scaleX(1.0805) skewY(0.100deg)">0.43</span></span><span class="w" style="width:6.895px"><span class="wi st" style="transform:translateY(1.037px) scaleX(0.9582) skewY(0.100deg)">**</span></span></div>
<div class="an" style="transform:translate(452.243px,88.208px) scaleX(1.0146) translate(-50%,-6.179px)"><span class="w" style="width:15.352px"><span class="wi" style="transform:scaleX(1.0805) skewY(0.100deg)">0.36</span></span><span class="w" style="width:3.447px"><span class="wi st" style="transform:translateY(1.037px) scaleX(0.9582) skewY(0.100deg)">*</span></span></div>
<div class="an" style="transform:translate(485.084px,88.210px) scaleX(1.0152) translate(-50%,-6.179px)"><span class="w" style="width:15.352px"><span class="wi" style="transform:scaleX(1.0805) skewY(0.100deg)">0.32</span></span><span class="w" style="width:3.447px"><span class="wi st" style="transform:translateY(1.037px) scaleX(0.9582) skewY(0.100deg)">*</span></span></div>
<div class="an" style="transform:translate(518.032px,88.177px) scaleX(0.9464) translate(-50%,-6.179px)"><span class="w" style="width:15.352px"><span class="wi" style="transform:scaleX(1.0805) skewY(0.100deg)">0.19</span></span></div>
<div class="an" style="transform:translate(550.698px,88.289px) scaleX(1.0192) translate(-50%,-6.179px)"><span class="w" style="width:15.352px"><span class="wi" style="transform:scaleX(1.0805) skewY(0.100deg)">0.57</span></span><span class="w" style="width:6.895px"><span class="wi st" style="transform:translateY(1.037px) scaleX(0.9582) skewY(0.100deg)">**</span></span></div>
<div class="an" style="transform:translate(583.475px,88.220px) scaleX(0.9569) translate(-50%,-6.179px)"><span class="w" style="width:17.840px"><span class="wi" style="transform:scaleX(1.0722) skewY(0.100deg)">-0.08</span></span></div>
<div class="an" style="transform:translate(222.524px,120.963px) scaleX(0.9834) translate(-50%,-6.179px)"><span class="w" style="width:15.352px"><span class="wi" style="transform:scaleX(1.0805) skewY(0.100deg)">0.58</span></span><span class="w" style="width:6.895px"><span class="wi st" style="transform:translateY(1.037px) scaleX(0.9582) skewY(0.100deg)">**</span></span></div>
<div class="an" style="transform:translate(255.533px,121.017px) scaleX(1.0062) translate(-50%,-6.179px)"><span class="w" style="width:15.352px"><span class="wi" style="transform:scaleX(1.0805) skewY(0.100deg)">0.54</span></span><span class="w" style="width:6.895px"><span class="wi st" style="transform:translateY(1.037px) scaleX(0.9582) skewY(0.100deg)">**</span></span></div>
<div class="an" style="transform:translate(288.204px,121.004px) scaleX(1.0151) translate(-50%,-6.179px)"><span class="w" style="width:15.352px"><span class="wi" style="transform:scaleX(1.0805) skewY(0.100deg)">0.81</span></span><span class="w" style="width:6.895px"><span class="wi st" style="transform:translateY(1.037px) scaleX(0.9582) skewY(0.100deg)">**</span></span></div>
<div class="an" style="transform:translate(320.669px,120.987px) scaleX(0.9150) translate(-50%,-6.179px)"><span class="w" style="width:15.352px"><span class="wi" style="transform:scaleX(1.0805) skewY(0.100deg)">1.00</span></span></div>
<div class="an" style="transform:translate(353.756px,121.000px) scaleX(1.0262) translate(-50%,-6.179px)"><span class="w" style="width:15.352px"><span class="wi" style="transform:scaleX(1.0805) skewY(0.100deg)">0.58</span></span><span class="w" style="width:6.895px"><span class="wi st" style="transform:translateY(1.037px) scaleX(0.9582) skewY(0.100deg)">**</span></span></div>
<div class="an" style="transform:translate(386.651px,121.005px) scaleX(0.9754) translate(-50%,-6.179px)"><span class="w" style="width:15.352px"><span class="wi" style="transform:scaleX(1.0805) skewY(0.100deg)">0.63</span></span><span class="w" style="width:6.895px"><span class="wi st" style="transform:translateY(1.037px) scaleX(0.9582) skewY(0.100deg)">**</span></span></div>
<div class="an" style="transform:translate(419.463px,120.995px) scaleX(1.0069) translate(-50%,-6.179px)"><span class="w" style="width:15.352px"><span class="wi" style="transform:scaleX(1.0805) skewY(0.100deg)">0.51</span></span><span class="w" style="width:6.895px"><span class="wi st" style="transform:translateY(1.037px) scaleX(0.9582) skewY(0.100deg)">**</span></span></div>
<div class="an" style="transform:translate(452.220px,121.010px) scaleX(1.0177) translate(-50%,-6.179px)"><span class="w" style="width:15.352px"><span class="wi" style="transform:scaleX(1.0805) skewY(0.100deg)">0.49</span></span><span class="w" style="width:6.895px"><span class="wi st" style="transform:translateY(1.037px) scaleX(0.9582) skewY(0.100deg)">**</span></span></div>
<div class="an" style="transform:translate(485.205px,120.916px) scaleX(1.0059) translate(-50%,-6.179px)"><span class="w" style="width:15.352px"><span class="wi" style="transform:scaleX(1.0805) skewY(0.100deg)">0.36</span></span><span class="w" style="width:3.447px"><span class="wi st" style="transform:translateY(1.037px) scaleX(0.9582) skewY(0.100deg)">*</span></span></div>
<div class="an" style="transform:translate(517.852px,120.946px) scaleX(0.9726) translate(-50%,-6.179px)"><span class="w" style="width:15.352px"><span class="wi" style="transform:scaleX(1.0805) skewY(0.100deg)">0.35</span></span><span class="w" style="width:3.447px"><span class="wi st" style="transform:translateY(1.037px) scaleX(0.9582) skewY(0.100deg)">*</span></span></div>
<div class="an" style="transform:translate(550.690px,121.060px) scaleX(0.9951) translate(-50%,-6.179px)"><span class="w" style="width:15.352px"><span class="wi" style="transform:scaleX(1.0805) skewY(0.100deg)">0.62</span></span><span class="w" style="width:6.895px"><span class="wi st" style="transform:translateY(1.037px) scaleX(0.9582) skewY(0.100deg)">**</span></span></div>
<div class="an" style="transform:translate(583.484px,120.960px) scaleX(0.9598) translate(-50%,-6.179px)"><span class="w" style="width:17.840px"><span class="wi" style="transform:scaleX(1.0722) skewY(0.100deg)">-0.08</span></span></div>
<div class="an" style="transform:translate(222.411px,153.702px) scaleX(0.9928) translate(-50%,-6.179px)"><span class="w" style="width:15.352px"><span class="wi" style="transform:scaleX(1.0805) skewY(0.100deg)">0.41</span></span><span class="w" style="width:6.895px"><span class="wi st" style="transform:translateY(1.037px) scaleX(0.9582) skewY(0.100deg)">**</span></span></div>
<div class="an" style="transform:translate(255.330px,153.630px) scaleX(1.0468) translate(-50%,-6.179px)"><span class="w" style="width:15.352px"><span class="wi" style="transform:scaleX(1.0805) skewY(0.100deg)">0.35</span></span><span class="w" style="width:3.447px"><span class="wi st" style="transform:translateY(1.037px) scaleX(0.9582) skewY(0.100deg)">*</span></span></div>
<div class="an" style="transform:translate(288.209px,153.730px) scaleX(1.0055) translate(-50%,-6.179px)"><span class="w" style="width:15.352px"><span class="wi" style="transform:scaleX(1.0805) skewY(0.100deg)">0.54</span></span><span class="w" style="width:6.895px"><span class="wi st" style="transform:translateY(1.037px) scaleX(0.9582) skewY(0.100deg)">**</span></span></div>
<div class="an" style="transform:translate(321.033px,153.646px) scaleX(1.0317) translate(-50%,-6.179px)"><span class="w" style="width:15.352px"><span class="wi" style="transform:scaleX(1.0805) skewY(0.100deg)">0.58</span></span><span class="w" style="width:6.895px"><span class="wi st" style="transform:translateY(1.037px) scaleX(0.9582) skewY(0.100deg)">**</span></span></div>
<div class="an" style="transform:translate(353.596px,153.707px) scaleX(0.9177) translate(-50%,-6.179px)"><span class="w" style="width:15.352px"><span class="wi" style="transform:scaleX(1.0805) skewY(0.100deg)">1.00</span></span></div>
<div class="an" style="transform:translate(386.692px,153.696px) scaleX(1.0036) translate(-50%,-6.179px)"><span class="w" style="width:15.352px"><span class="wi" style="transform:scaleX(1.0805) skewY(0.100deg)">0.52</span></span><span class="w" style="width:6.895px"><span class="wi st" style="transform:translateY(1.037px) scaleX(0.9582) skewY(0.100deg)">**</span></span></div>
<div class="an" style="transform:translate(419.550px,153.614px) scaleX(1.0438) translate(-50%,-6.179px)"><span class="w" style="width:15.352px"><span class="wi" style="transform:scaleX(1.0805) skewY(0.100deg)">0.31</span></span><span class="w" style="width:3.447px"><span class="wi st" style="transform:translateY(1.037px) scaleX(0.9582) skewY(0.100deg)">*</span></span></div>
<div class="an" style="transform:translate(452.246px,153.803px) scaleX(1.0077) translate(-50%,-6.179px)"><span class="w" style="width:15.352px"><span class="wi" style="transform:scaleX(1.0805) skewY(0.100deg)">0.46</span></span><span class="w" style="width:6.895px"><span class="wi st" style="transform:translateY(1.037px) scaleX(0.9582) skewY(0.100deg)">**</span></span></div>
<div class="an" style="transform:translate(485.317px,153.739px) scaleX(0.9129) translate(-50%,-6.179px)"><span class="w" style="width:15.352px"><span class="wi" style="transform:scaleX(1.0805) skewY(0.100deg)">0.27</span></span></div>
<div class="an" style="transform:translate(517.922px,153.715px) scaleX(0.9845) translate(-50%,-6.179px)"><span class="w" style="width:15.352px"><span class="wi" style="transform:scaleX(1.0805) skewY(0.100deg)">0.32</span></span><span class="w" style="width:3.447px"><span class="wi st" style="transform:translateY(1.037px) scaleX(0.9582) skewY(0.100deg)">*</span></span></div>
<div class="an" style="transform:translate(550.827px,153.775px) scaleX(0.9954) translate(-50%,-6.179px)"><span class="w" style="width:15.352px"><span class="wi" style="transform:scaleX(1.0805) skewY(0.100deg)">0.66</span></span><span class="w" style="width:6.895px"><span class="wi st" style="transform:translateY(1.037px) scaleX(0.9582) skewY(0.100deg)">**</span></span></div>
<div class="an" style="transform:translate(583.517px,153.702px) scaleX(0.9556) translate(-50%,-6.179px)"><span class="w" style="width:15.352px"><span class="wi" style="transform:scaleX(1.0805) skewY(0.100deg)">0.06</span></span></div>
<div class="an" style="transform:translate(222.572px,186.766px) scaleX(1.0394) translate(-50%,-6.179px)"><span class="w" style="width:15.352px"><span class="wi" style="transform:scaleX(1.0805) skewY(0.100deg)">0.36</span></span><span class="w" style="width:3.447px"><span class="wi st" style="transform:translateY(1.037px) scaleX(0.9582) skewY(0.100deg)">*</span></span></div>
<div class="an" style="transform:translate(255.438px,186.731px) scaleX(0.9898) translate(-50%,-6.179px)"><span class="w" style="width:15.352px"><span class="wi" style="transform:scaleX(1.0805) skewY(0.100deg)">0.44</span></span><span class="w" style="width:6.895px"><span class="wi st" style="transform:translateY(1.037px) scaleX(0.9582) skewY(0.100deg)">**</span></span></div>
<div class="an" style="transform:translate(288.084px,186.744px) scaleX(1.0227) translate(-50%,-6.179px)"><span class="w" style="width:15.352px"><span class="wi" style="transform:scaleX(1.0805) skewY(0.100deg)">0.65</span></span><span class="w" style="width:6.895px"><span class="wi st" style="transform:translateY(1.037px) scaleX(0.9582) skewY(0.100deg)">**</span></span></div>
<div class="an" style="transform:translate(320.799px,186.772px) scaleX(1.0158) translate(-50%,-6.179px)"><span class="w" style="width:15.352px"><span class="wi" style="transform:scaleX(1.0805) skewY(0.100deg)">0.63</span></span><span class="w" style="width:6.895px"><span class="wi st" style="transform:translateY(1.037px) scaleX(0.9582) skewY(0.100deg)">**</span></span></div>
<div class="an" style="transform:translate(353.829px,186.736px) scaleX(0.9910) translate(-50%,-6.179px)"><span class="w" style="width:15.352px"><span class="wi" style="transform:scaleX(1.0805) skewY(0.100deg)">0.52</span></span><span class="w" style="width:6.895px"><span class="wi st" style="transform:translateY(1.037px) scaleX(0.9582) skewY(0.100deg)">**</span></span></div>
<div class="an" style="transform:translate(386.314px,186.735px) scaleX(0.9525) translate(-50%,-6.179px)"><span class="w" style="width:15.352px"><span class="wi" style="transform:scaleX(1.0805) skewY(0.100deg)">1.00</span></span></div>
<div class="an" style="transform:translate(419.361px,186.760px) scaleX(1.0133) translate(-50%,-6.179px)"><span class="w" style="width:15.352px"><span class="wi" style="transform:scaleX(1.0805) skewY(0.100deg)">0.42</span></span><span class="w" style="width:6.895px"><span class="wi st" style="transform:translateY(1.037px) scaleX(0.9582) skewY(0.100deg)">**</span></span></div>
<div class="an" style="transform:translate(452.269px,186.795px) scaleX(1.0231) translate(-50%,-6.179px)"><span class="w" style="width:15.352px"><span class="wi" style="transform:scaleX(1.0805) skewY(0.100deg)">0.60</span></span><span class="w" style="width:6.895px"><span class="wi st" style="transform:translateY(1.037px) scaleX(0.9582) skewY(0.100deg)">**</span></span></div>
<div class="an" style="transform:translate(485.253px,186.690px) scaleX(1.0059) translate(-50%,-6.179px)"><span class="w" style="width:15.352px"><span class="wi" style="transform:scaleX(1.0805) skewY(0.100deg)">0.58</span></span><span class="w" style="width:6.895px"><span class="wi st" style="transform:translateY(1.037px) scaleX(0.9582) skewY(0.100deg)">**</span></span></div>
<div class="an" style="transform:translate(517.815px,186.715px) scaleX(0.9888) translate(-50%,-6.179px)"><span class="w" style="width:15.352px"><span class="wi" style="transform:scaleX(1.0805) skewY(0.100deg)">0.33</span></span><span class="w" style="width:3.447px"><span class="wi st" style="transform:translateY(1.037px) scaleX(0.9582) skewY(0.100deg)">*</span></span></div>
<div class="an" style="transform:translate(550.791px,186.751px) scaleX(0.9923) translate(-50%,-6.179px)"><span class="w" style="width:15.352px"><span class="wi" style="transform:scaleX(1.0805) skewY(0.100deg)">0.64</span></span><span class="w" style="width:6.895px"><span class="wi st" style="transform:translateY(1.037px) scaleX(0.9582) skewY(0.100deg)">**</span></span></div>
<div class="an" style="transform:translate(583.398px,186.741px) scaleX(0.9665) translate(-50%,-6.179px)"><span class="w" style="width:17.840px"><span class="wi" style="transform:scaleX(1.0722) skewY(0.100deg)">-0.01</span></span></div>
<div class="an" style="transform:translate(222.362px,219.514px) scaleX(0.9896) translate(-50%,-6.179px)"><span class="w" style="width:15.352px"><span class="wi" style="transform:scaleX(1.0805) skewY(0.100deg)">0.44</span></span><span class="w" style="width:6.895px"><span class="wi st" style="transform:translateY(1.037px) scaleX(0.9582) skewY(0.100deg)">**</span></span></div>
<div class="an" style="transform:translate(255.521px,219.445px) scaleX(1.0069) translate(-50%,-6.179px)"><span class="w" style="width:15.352px"><span class="wi" style="transform:scaleX(1.0805) skewY(0.100deg)">0.54</span></span><span class="w" style="width:6.895px"><span class="wi st" style="transform:translateY(1.037px) scaleX(0.9582) skewY(0.100deg)">**</span></span></div>
<div class="an" style="transform:translate(288.131px,219.396px) scaleX(1.0181) translate(-50%,-6.179px)"><span class="w" style="width:15.352px"><span class="wi" style="transform:scaleX(1.0805) skewY(0.100deg)">0.43</span></span><span class="w" style="width:6.895px"><span class="wi st" style="transform:translateY(1.037px) scaleX(0.9582) skewY(0.100deg)">**</span></span></div>
<div class="an" style="transform:translate(321.022px,219.514px) scaleX(1.0351) translate(-50%,-6.179px)"><span class="w" style="width:15.352px"><span class="wi" style="transform:scaleX(1.0805) skewY(0.100deg)">0.51</span></span><span class="w" style="width:6.895px"><span class="wi st" style="transform:translateY(1.037px) scaleX(0.9582) skewY(0.100deg)">**</span></span></div>
<div class="an" style="transform:translate(353.765px,219.353px) scaleX(1.0189) translate(-50%,-6.179px)"><span class="w" style="width:15.352px"><span class="wi" style="transform:scaleX(1.0805) skewY(0.100deg)">0.31</span></span><span class="w" style="width:3.447px"><span class="wi st" style="transform:translateY(1.037px) scaleX(0.9582) skewY(0.100deg)">*</span></span></div>
<div class="an" style="transform:translate(386.623px,219.580px) scaleX(0.9899) translate(-50%,-6.179px)"><span class="w" style="width:15.352px"><span class="wi" style="transform:scaleX(1.0805) skewY(0.100deg)">0.42</span></span><span class="w" style="width:6.895px"><span class="wi st" style="transform:translateY(1.037px) scaleX(0.9582) skewY(0.100deg)">**</span></span></div>
<div class="an" style="transform:translate(419.088px,219.500px) scaleX(0.9913) translate(-50%,-6.179px)"><span class="w" style="width:15.352px"><span class="wi" style="transform:scaleX(1.0805) skewY(0.100deg)">1.00</span></span></div>
<div class="an" style="transform:translate(452.192px,219.496px) scaleX(1.0151) translate(-50%,-6.179px)"><span class="w" style="width:15.352px"><span class="wi" style="transform:scaleX(1.0805) skewY(0.100deg)">0.53</span></span><span class="w" style="width:6.895px"><span class="wi st" style="transform:translateY(1.037px) scaleX(0.9582) skewY(0.100deg)">**</span></span></div>
<div class="an" style="transform:translate(485.158px,219.370px) scaleX(1.0138) translate(-50%,-6.179px)"><span class="w" style="width:15.352px"><span class="wi" style="transform:scaleX(1.0805) skewY(0.100deg)">0.29</span></span><span class="w" style="width:3.447px"><span class="wi st" style="transform:translateY(1.037px) scaleX(0.9582) skewY(0.100deg)">*</span></span></div>
<div class="an" style="transform:translate(517.544px,219.499px) scaleX(0.9504) translate(-50%,-6.179px)"><span class="w" style="width:17.840px"><span class="wi" style="transform:scaleX(1.0722) skewY(0.100deg)">-0.02</span></span></div>
<div class="an" style="transform:translate(550.651px,219.519px) scaleX(1.0180) translate(-50%,-6.179px)"><span class="w" style="width:15.352px"><span class="wi" style="transform:scaleX(1.0805) skewY(0.100deg)">0.38</span></span><span class="w" style="width:6.895px"><span class="wi st" style="transform:translateY(1.037px) scaleX(0.9582) skewY(0.100deg)">**</span></span></div>
<div class="an" style="transform:translate(583.285px,219.504px) scaleX(0.9581) translate(-50%,-6.179px)"><span class="w" style="width:17.840px"><span class="wi" style="transform:scaleX(1.0722) skewY(0.100deg)">-0.02</span></span></div>
<div class="an" style="transform:translate(222.508px,252.264px) scaleX(0.8966) translate(-50%,-6.179px)"><span class="w" style="width:15.352px"><span class="wi" style="transform:scaleX(1.0805) skewY(0.100deg)">0.14</span></span></div>
<div class="an" style="transform:translate(255.475px,252.345px) scaleX(1.0406) translate(-50%,-6.179px)"><span class="w" style="width:15.352px"><span class="wi" style="transform:scaleX(1.0805) skewY(0.100deg)">0.34</span></span><span class="w" style="width:3.447px"><span class="wi st" style="transform:translateY(1.037px) scaleX(0.9582) skewY(0.100deg)">*</span></span></div>
<div class="an" style="transform:translate(288.227px,252.330px) scaleX(1.0138) translate(-50%,-6.179px)"><span class="w" style="width:15.352px"><span class="wi" style="transform:scaleX(1.0805) skewY(0.100deg)">0.36</span></span><span class="w" style="width:3.447px"><span class="wi st" style="transform:translateY(1.037px) scaleX(0.9582) skewY(0.100deg)">*</span></span></div>
<div class="an" style="transform:translate(320.930px,252.310px) scaleX(1.0063) translate(-50%,-6.179px)"><span class="w" style="width:15.352px"><span class="wi" style="transform:scaleX(1.0805) skewY(0.100deg)">0.49</span></span><span class="w" style="width:6.895px"><span class="wi st" style="transform:translateY(1.037px) scaleX(0.9582) skewY(0.100deg)">**</span></span></div>
<div class="an" style="transform:translate(353.598px,252.278px) scaleX(1.0172) translate(-50%,-6.179px)"><span class="w" style="width:15.352px"><span class="wi" style="transform:scaleX(1.0805) skewY(0.100deg)">0.46</span></span><span class="w" style="width:6.895px"><span class="wi st" style="transform:translateY(1.037px) scaleX(0.9582) skewY(0.100deg)">**</span></span></div>
<div class="an" style="transform:translate(386.673px,252.234px) scaleX(0.9776) translate(-50%,-6.179px)"><span class="w" style="width:15.352px"><span class="wi" style="transform:scaleX(1.0805) skewY(0.100deg)">0.60</span></span><span class="w" style="width:6.895px"><span class="wi st" style="transform:translateY(1.037px) scaleX(0.9582) skewY(0.100deg)">**</span></span></div>
<div class="an" style="transform:translate(419.402px,252.224px) scaleX(1.0078) translate(-50%,-6.179px)"><span class="w" style="width:15.352px"><span class="wi" style="transform:scaleX(1.0805) skewY(0.100deg)">0.53</span></span><span class="w" style="width:6.895px"><span class="wi st" style="transform:translateY(1.037px) scaleX(0.9582) skewY(0.100deg)">**</span></span></div>
<div class="an" style="transform:translate(451.814px,252.248px) scaleX(0.9329) translate(-50%,-6.179px)"><span class="w" style="width:15.352px"><span class="wi" style="transform:scaleX(1.0805) skewY(0.100deg)">1.00</span></span></div>
<div class="an" style="transform:translate(485.177px,252.295px) scaleX(1.0177) translate(-50%,-6.179px)"><span class="w" style="width:15.352px"><span class="wi" style="transform:scaleX(1.0805) skewY(0.100deg)">0.64</span></span><span class="w" style="width:6.895px"><span class="wi st" style="transform:translateY(1.037px) scaleX(0.9582) skewY(0.100deg)">**</span></span></div>
<div class="an" style="transform:translate(518.046px,252.178px) scaleX(1.0313) translate(-50%,-6.179px)"><span class="w" style="width:15.352px"><span class="wi" style="transform:scaleX(1.0805) skewY(0.100deg)">0.55</span></span><span class="w" style="width:10.342px"><span class="wi st" style="transform:translateY(1.037px) scaleX(0.9582) skewY(0.100deg)">***</span></span></div>
<div class="an" style="transform:translate(550.710px,252.321px) scaleX(0.9973) translate(-50%,-6.179px)"><span class="w" style="width:15.352px"><span class="wi" style="transform:scaleX(1.0805) skewY(0.100deg)">0.60</span></span><span class="w" style="width:6.895px"><span class="wi st" style="transform:translateY(1.037px) scaleX(0.9582) skewY(0.100deg)">**</span></span></div>
<div class="an" style="transform:translate(583.204px,252.211px) scaleX(0.9541) translate(-50%,-6.179px)"><span class="w" style="width:17.840px"><span class="wi" style="transform:scaleX(1.0722) skewY(0.100deg)">-0.03</span></span></div>
<div class="an" style="transform:translate(222.420px,284.939px) scaleX(0.9510) translate(-50%,-6.179px)"><span class="w" style="width:15.352px"><span class="wi" style="transform:scaleX(1.0805) skewY(0.100deg)">0.09</span></span></div>
<div class="an" style="transform:translate(255.435px,285.023px) scaleX(1.0394) translate(-50%,-6.179px)"><span class="w" style="width:15.352px"><span class="wi" style="transform:scaleX(1.0805) skewY(0.100deg)">0.29</span></span><span class="w" style="width:3.447px"><span class="wi st" style="transform:translateY(1.037px) scaleX(0.9582) skewY(0.100deg)">*</span></span></div>
<div class="an" style="transform:translate(288.059px,285.089px) scaleX(1.0121) translate(-50%,-6.179px)"><span class="w" style="width:15.352px"><span class="wi" style="transform:scaleX(1.0805) skewY(0.100deg)">0.32</span></span><span class="w" style="width:3.447px"><span class="wi st" style="transform:translateY(1.037px) scaleX(0.9582) skewY(0.100deg)">*</span></span></div>
<div class="an" style="transform:translate(321.041px,284.980px) scaleX(0.9820) translate(-50%,-6.179px)"><span class="w" style="width:15.352px"><span class="wi" style="transform:scaleX(1.0805) skewY(0.100deg)">0.36</span></span><span class="w" style="width:3.447px"><span class="wi st" style="transform:translateY(1.037px) scaleX(0.9582) skewY(0.100deg)">*</span></span></div>
<div class="an" style="transform:translate(353.931px,285.013px) scaleX(0.9677) translate(-50%,-6.179px)"><span class="w" style="width:15.352px"><span class="wi" style="transform:scaleX(1.0805) skewY(0.100deg)">0.27</span></span></div>
<div class="an" style="transform:translate(386.737px,284.967px) scaleX(1.0241) translate(-50%,-6.179px)"><span class="w" style="width:15.352px"><span class="wi" style="transform:scaleX(1.0805) skewY(0.100deg)">0.58</span></span><span class="w" style="width:6.895px"><span class="wi st" style="transform:translateY(1.037px) scaleX(0.9582) skewY(0.100deg)">**</span></span></div>
<div class="an" style="transform:translate(419.432px,285.024px) scaleX(1.0397) translate(-50%,-6.179px)"><span class="w" style="width:15.352px"><span class="wi" style="transform:scaleX(1.0805) skewY(0.100deg)">0.29</span></span><span class="w" style="width:3.447px"><span class="wi st" style="transform:translateY(1.037px) scaleX(0.9582) skewY(0.100deg)">*</span></span></div>
<div class="an" style="transform:translate(452.200px,285.071px) scaleX(1.0195) translate(-50%,-6.179px)"><span class="w" style="width:15.352px"><span class="wi" style="transform:scaleX(1.0805) skewY(0.100deg)">0.64</span></span><span class="w" style="width:6.895px"><span class="wi st" style="transform:translateY(1.037px) scaleX(0.9582) skewY(0.100deg)">**</span></span></div>
<div class="an" style="transform:translate(484.788px,284.983px) scaleX(0.9384) translate(-50%,-6.179px)"><span class="w" style="width:15.352px"><span class="wi" style="transform:scaleX(1.0805) skewY(0.100deg)">1.00</span></span></div>
<div class="an" style="transform:translate(517.968px,285.028px) scaleX(1.0266) translate(-50%,-6.179px)"><span class="w" style="width:15.352px"><span class="wi" style="transform:scaleX(1.0805) skewY(0.100deg)">0.48</span></span><span class="w" style="width:10.342px"><span class="wi st" style="transform:translateY(1.037px) scaleX(0.9582) skewY(0.100deg)">***</span></span></div>
<div class="an" style="transform:translate(550.622px,284.994px) scaleX(1.0303) translate(-50%,-6.179px)"><span class="w" style="width:15.352px"><span class="wi" style="transform:scaleX(1.0805) skewY(0.100deg)">0.33</span></span><span class="w" style="width:3.447px"><span class="wi st" style="transform:translateY(1.037px) scaleX(0.9582) skewY(0.100deg)">*</span></span></div>
<div class="an" style="transform:translate(583.476px,284.988px) scaleX(0.9605) translate(-50%,-6.179px)"><span class="w" style="width:17.840px"><span class="wi" style="transform:scaleX(1.0722) skewY(0.100deg)">-0.06</span></span></div>
<div class="an" style="transform:translate(222.499px,318.003px) scaleX(0.9495) translate(-50%,-6.179px)"><span class="w" style="width:15.352px"><span class="wi" style="transform:scaleX(1.0805) skewY(0.100deg)">0.28</span></span></div>
<div class="an" style="transform:translate(255.341px,317.987px) scaleX(0.9396) translate(-50%,-6.179px)"><span class="w" style="width:15.352px"><span class="wi" style="transform:scaleX(1.0805) skewY(0.100deg)">0.33</span></span></div>
<div class="an" style="transform:translate(288.229px,317.948px) scaleX(0.9550) translate(-50%,-6.179px)"><span class="w" style="width:15.352px"><span class="wi" style="transform:scaleX(1.0805) skewY(0.100deg)">0.19</span></span></div>
<div class="an" style="transform:translate(320.852px,317.998px) scaleX(1.0249) translate(-50%,-6.179px)"><span class="w" style="width:15.352px"><span class="wi" style="transform:scaleX(1.0805) skewY(0.100deg)">0.35</span></span><span class="w" style="width:6.895px"><span class="wi st" style="transform:translateY(1.037px) scaleX(0.9582) skewY(0.100deg)">**</span></span></div>
<div class="an" style="transform:translate(353.579px,317.941px) scaleX(1.0193) translate(-50%,-6.179px)"><span class="w" style="width:15.352px"><span class="wi" style="transform:scaleX(1.0805) skewY(0.100deg)">0.32</span></span><span class="w" style="width:3.447px"><span class="wi st" style="transform:translateY(1.037px) scaleX(0.9582) skewY(0.100deg)">*</span></span></div>
<div class="an" style="transform:translate(386.611px,318.050px) scaleX(1.0170) translate(-50%,-6.179px)"><span class="w" style="width:15.352px"><span class="wi" style="transform:scaleX(1.0805) skewY(0.100deg)">0.33</span></span><span class="w" style="width:3.447px"><span class="wi st" style="transform:translateY(1.037px) scaleX(0.9582) skewY(0.100deg)">*</span></span></div>
<div class="an" style="transform:translate(418.975px,318.043px) scaleX(0.9626) translate(-50%,-6.179px)"><span class="w" style="width:17.840px"><span class="wi" style="transform:scaleX(1.0722) skewY(0.100deg)">-0.02</span></span></div>
<div class="an" style="transform:translate(452.247px,317.987px) scaleX(1.0145) translate(-50%,-6.179px)"><span class="w" style="width:15.352px"><span class="wi" style="transform:scaleX(1.0805) skewY(0.100deg)">0.55</span></span><span class="w" style="width:10.342px"><span class="wi st" style="transform:translateY(1.037px) scaleX(0.9582) skewY(0.100deg)">***</span></span></div>
<div class="an" style="transform:translate(485.161px,317.963px) scaleX(1.0182) translate(-50%,-6.179px)"><span class="w" style="width:15.352px"><span class="wi" style="transform:scaleX(1.0805) skewY(0.100deg)">0.48</span></span><span class="w" style="width:10.342px"><span class="wi st" style="transform:translateY(1.037px) scaleX(0.9582) skewY(0.100deg)">***</span></span></div>
<div class="an" style="transform:translate(517.664px,317.968px) scaleX(0.9209) translate(-50%,-6.179px)"><span class="w" style="width:15.352px"><span class="wi" style="transform:scaleX(1.0805) skewY(0.100deg)">1.00</span></span></div>
<div class="an" style="transform:translate(550.656px,317.974px) scaleX(0.9788) translate(-50%,-6.179px)"><span class="w" style="width:15.352px"><span class="wi" style="transform:scaleX(1.0805) skewY(0.100deg)">0.45</span></span><span class="w" style="width:6.895px"><span class="wi st" style="transform:translateY(1.037px) scaleX(0.9582) skewY(0.100deg)">**</span></span></div>
<div class="an" style="transform:translate(583.359px,318.015px) scaleX(0.9332) translate(-50%,-6.179px)"><span class="w" style="width:15.352px"><span class="wi" style="transform:scaleX(1.0805) skewY(0.100deg)">0.02</span></span></div>
<div class="an" style="transform:translate(222.430px,350.729px) scaleX(1.0373) translate(-50%,-6.179px)"><span class="w" style="width:15.352px"><span class="wi" style="transform:scaleX(1.0805) skewY(0.100deg)">0.32</span></span><span class="w" style="width:3.447px"><span class="wi st" style="transform:translateY(1.037px) scaleX(0.9582) skewY(0.100deg)">*</span></span></div>
<div class="an" style="transform:translate(255.390px,350.758px) scaleX(1.0045) translate(-50%,-6.179px)"><span class="w" style="width:15.352px"><span class="wi" style="transform:scaleX(1.0805) skewY(0.100deg)">0.45</span></span><span class="w" style="width:6.895px"><span class="wi st" style="transform:translateY(1.037px) scaleX(0.9582) skewY(0.100deg)">**</span></span></div>
<div class="an" style="transform:translate(288.301px,350.659px) scaleX(1.0059) translate(-50%,-6.179px)"><span class="w" style="width:15.352px"><span class="wi" style="transform:scaleX(1.0805) skewY(0.100deg)">0.57</span></span><span class="w" style="width:6.895px"><span class="wi st" style="transform:translateY(1.037px) scaleX(0.9582) skewY(0.100deg)">**</span></span></div>
<div class="an" style="transform:translate(320.859px,350.700px) scaleX(1.0409) translate(-50%,-6.179px)"><span class="w" style="width:15.352px"><span class="wi" style="transform:scaleX(1.0805) skewY(0.100deg)">0.62</span></span><span class="w" style="width:6.895px"><span class="wi st" style="transform:translateY(1.037px) scaleX(0.9582) skewY(0.100deg)">**</span></span></div>
<div class="an" style="transform:translate(353.764px,350.748px) scaleX(1.0167) translate(-50%,-6.179px)"><span class="w" style="width:15.352px"><span class="wi" style="transform:scaleX(1.0805) skewY(0.100deg)">0.66</span></span><span class="w" style="width:6.895px"><span class="wi st" style="transform:translateY(1.037px) scaleX(0.9582) skewY(0.100deg)">**</span></span></div>
<div class="an" style="transform:translate(386.747px,350.722px) scaleX(1.0181) translate(-50%,-6.179px)"><span class="w" style="width:15.352px"><span class="wi" style="transform:scaleX(1.0805) skewY(0.100deg)">0.64</span></span><span class="w" style="width:6.895px"><span class="wi st" style="transform:translateY(1.037px) scaleX(0.9582) skewY(0.100deg)">**</span></span></div>
<div class="an" style="transform:translate(419.433px,350.766px) scaleX(1.0005) translate(-50%,-6.179px)"><span class="w" style="width:15.352px"><span class="wi" style="transform:scaleX(1.0805) skewY(0.100deg)">0.38</span></span><span class="w" style="width:6.895px"><span class="wi st" style="transform:translateY(1.037px) scaleX(0.9582) skewY(0.100deg)">**</span></span></div>
<div class="an" style="transform:translate(452.263px,350.719px) scaleX(1.0221) translate(-50%,-6.179px)"><span class="w" style="width:15.352px"><span class="wi" style="transform:scaleX(1.0805) skewY(0.100deg)">0.60</span></span><span class="w" style="width:6.895px"><span class="wi st" style="transform:translateY(1.037px) scaleX(0.9582) skewY(0.100deg)">**</span></span></div>
<div class="an" style="transform:translate(485.035px,350.782px) scaleX(1.0141) translate(-50%,-6.179px)"><span class="w" style="width:15.352px"><span class="wi" style="transform:scaleX(1.0805) skewY(0.100deg)">0.33</span></span><span class="w" style="width:3.447px"><span class="wi st" style="transform:translateY(1.037px) scaleX(0.9582) skewY(0.100deg)">*</span></span></div>
<div class="an" style="transform:translate(517.899px,350.772px) scaleX(1.0086) translate(-50%,-6.179px)"><span class="w" style="width:15.352px"><span class="wi" style="transform:scaleX(1.0805) skewY(0.100deg)">0.45</span></span><span class="w" style="width:6.895px"><span class="wi st" style="transform:translateY(1.037px) scaleX(0.9582) skewY(0.100deg)">**</span></span></div>
<div class="an" style="transform:translate(550.229px,350.724px) scaleX(0.9548) translate(-50%,-6.179px)"><span class="w" style="width:15.352px"><span class="wi" style="transform:scaleX(1.0805) skewY(0.100deg)">1.00</span></span></div>
<div class="an" style="transform:translate(583.483px,350.662px) scaleX(0.9489) translate(-50%,-6.179px)"><span class="w" style="width:15.352px"><span class="wi" style="transform:scaleX(1.0805) skewY(0.100deg)">0.09</span></span></div>
<div class="an" style="transform:translate(222.439px,383.453px) scaleX(0.9592) translate(-50%,-6.179px)"><span class="w" style="width:17.840px"><span class="wi" style="transform:scaleX(1.0722) skewY(0.100deg)">-0.16</span></span></div>
<div class="an" style="transform:translate(254.901px,383.446px) scaleX(0.9528) translate(-50%,-6.179px)"><span class="w" style="width:17.840px"><span class="wi" style="transform:scaleX(1.0722) skewY(0.100deg)">-0.15</span></span></div>
<div class="an" style="transform:translate(287.891px,383.438px) scaleX(0.9742) translate(-50%,-6.179px)"><span class="w" style="width:17.840px"><span class="wi" style="transform:scaleX(1.0722) skewY(0.100deg)">-0.08</span></span></div>
<div class="an" style="transform:translate(320.907px,383.446px) scaleX(0.9721) translate(-50%,-6.179px)"><span class="w" style="width:17.840px"><span class="wi" style="transform:scaleX(1.0722) skewY(0.100deg)">-0.08</span></span></div>
<div class="an" style="transform:translate(353.790px,383.475px) scaleX(0.9549) translate(-50%,-6.179px)"><span class="w" style="width:15.352px"><span class="wi" style="transform:scaleX(1.0805) skewY(0.100deg)">0.06</span></span></div>
<div class="an" style="transform:translate(386.395px,383.448px) scaleX(0.9651) translate(-50%,-6.179px)"><span class="w" style="width:17.840px"><span class="wi" style="transform:scaleX(1.0722) skewY(0.100deg)">-0.01</span></span></div>
<div class="an" style="transform:translate(418.969px,383.469px) scaleX(0.9631) translate(-50%,-6.179px)"><span class="w" style="width:17.840px"><span class="wi" style="transform:scaleX(1.0722) skewY(0.100deg)">-0.02</span></span></div>
<div class="an" style="transform:translate(451.933px,383.470px) scaleX(0.9633) translate(-50%,-6.179px)"><span class="w" style="width:17.840px"><span class="wi" style="transform:scaleX(1.0722) skewY(0.100deg)">-0.03</span></span></div>
<div class="an" style="transform:translate(484.901px,383.441px) scaleX(0.9772) translate(-50%,-6.179px)"><span class="w" style="width:17.840px"><span class="wi" style="transform:scaleX(1.0722) skewY(0.100deg)">-0.06</span></span></div>
<div class="an" style="transform:translate(517.883px,383.502px) scaleX(0.9250) translate(-50%,-6.179px)"><span class="w" style="width:15.352px"><span class="wi" style="transform:scaleX(1.0805) skewY(0.100deg)">0.02</span></span></div>
<div class="an" style="transform:translate(550.738px,383.460px) scaleX(0.9510) translate(-50%,-6.179px)"><span class="w" style="width:15.352px"><span class="wi" style="transform:scaleX(1.0805) skewY(0.100deg)">0.09</span></span></div>
<div class="an" style="transform:translate(583.316px,383.471px) scaleX(0.9555) translate(-50%,-6.179px)"><span class="w" style="width:15.352px"><span class="wi" style="transform:scaleX(1.0805) skewY(0.100deg)">1.00</span></span></div>
</div>
</body></html>
